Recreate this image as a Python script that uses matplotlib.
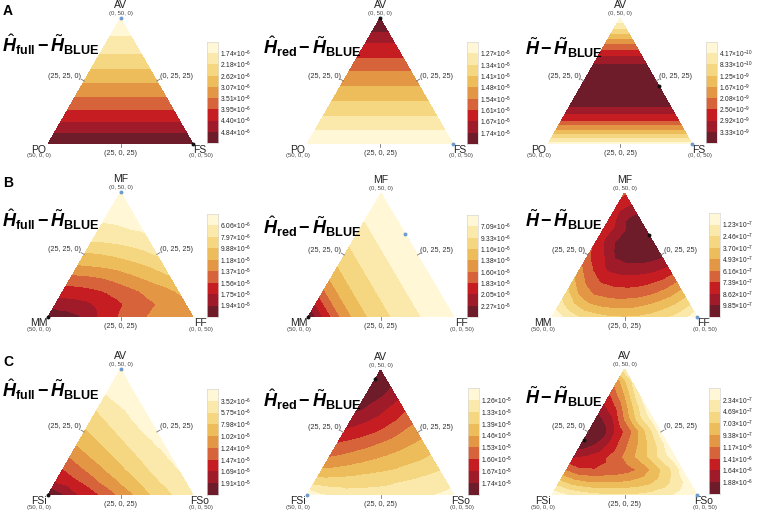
import numpy as np
import matplotlib
matplotlib.use('Agg')
import matplotlib.pyplot as plt
import matplotlib.tri as mtri
from matplotlib.colors import ListedColormap

# band colours, lightest (top of colour bar) to darkest
band_colors = ['#FFF7D6', '#FBE9AB', '#F5D681', '#EDBD5C', '#E39644',
               '#D6633A', '#C51D22', '#A01B2A', '#6E1B2A']

# ternary lattice spacing (units out of 50)
step = 5

# fields, given as position in the colour bands
# (0 = start of lightest band, 9 = end of darkest band).
# rows run from the top vertex down to the base, points in a row run
# from the left vertex side to the right vertex side.
a1_field = [
    [0.1],
    [0.7, 0.7],
    [1.4, 1.4, 1.4],
    [2.1, 2.1, 2.1, 2.1],
    [2.9, 2.9, 2.9, 2.9, 2.9],
    [3.8, 3.8, 3.8, 3.8, 3.8, 3.8],
    [4.75, 4.75, 4.75, 4.75, 4.75, 4.75, 4.75],
    [5.6, 5.6, 5.6, 5.6, 5.6, 5.6, 5.6, 5.6],
    [6.7, 6.7, 6.7, 6.7, 6.7, 6.7, 6.7, 6.7, 6.7],
    [7.8, 7.8, 7.8, 7.8, 7.8, 7.8, 7.8, 7.8, 7.8, 7.8],
    [8.9, 8.9, 8.9, 8.9, 8.9, 8.9, 8.9, 8.9, 8.9, 8.9, 8.9],
]
a2_field = [
    [8.9],
    [8.05, 8.05],
    [6.95, 6.95, 6.95],
    [6.15, 6.15, 6.15, 6.15],
    [5.15, 5.15, 5.15, 5.15, 5.15],
    [4.3, 4.3, 4.3, 4.3, 4.3, 4.3],
    [3.45, 3.45, 3.45, 3.45, 3.45, 3.45, 3.45],
    [2.6, 2.6, 2.6, 2.6, 2.6, 2.6, 2.6, 2.6],
    [1.75, 1.75, 1.75, 1.75, 1.75, 1.75, 1.75, 1.75, 1.75],
    [0.9, 0.9, 0.9, 0.9, 0.9, 0.9, 0.9, 0.9, 0.9, 0.9],
    [0.1, 0.1, 0.1, 0.1, 0.1, 0.1, 0.1, 0.1, 0.1, 0.1, 0.1],
]
a3_field = [
    [0.1],
    [2.2, 2.2],
    [4.7, 4.7, 4.7],
    [6.9, 6.9, 6.9, 6.9],
    [8.5, 8.5, 8.5, 8.5, 8.5],
    [8.7, 8.7, 8.7, 8.7, 8.7, 8.7],
    [8.6, 8.6, 8.6, 8.6, 8.6, 8.6, 8.6],
    [8.1, 8.1, 8.1, 8.1, 8.1, 8.1, 8.1, 8.1],
    [6.3, 6.3, 6.3, 6.3, 6.3, 6.3, 6.3, 6.3, 6.3],
    [3.6, 3.6, 3.6, 3.6, 3.6, 3.6, 3.6, 3.6, 3.6, 3.6],
    [0.2, 0.2, 0.2, 0.2, 0.2, 0.2, 0.2, 0.2, 0.2, 0.2, 0.2],
]
b1_field = [
    [0.1],
    [0.4, 0.3],
    [0.7, 0.6, 0.5],
    [1.3, 1.2, 1.0, 0.85],
    [2.0, 1.9, 1.75, 1.55, 1.3],
    [3.1, 3.0, 2.8, 2.55, 2.25, 1.85],
    [4.1, 4.0, 3.85, 3.6, 3.3, 2.95, 2.5],
    [5.4, 5.3, 5.1, 4.8, 4.4, 4.0, 3.6, 3.15],
    [6.5, 6.4, 6.2, 5.9, 5.5, 5.1, 4.7, 4.35, 3.85],
    [7.5, 7.4, 7.2, 6.8, 6.3, 5.8, 5.3, 4.95, 4.7, 4.2],
    [8.9, 8.45, 8.1, 7.3, 6.5, 5.85, 5.3, 4.9, 4.7, 4.5, 4.4],
]
b2_field = [
    [0.1],
    [0.4, 0.1],
    [0.85, 0.4, 0.1],
    [1.3, 0.85, 0.4, 0.1],
    [1.8, 1.3, 0.85, 0.4, 0.1],
    [2.3, 1.8, 1.3, 0.85, 0.4, 0.1],
    [3.0, 2.3, 1.8, 1.3, 0.85, 0.4, 0.1],
    [3.9, 3.0, 2.3, 1.8, 1.3, 0.85, 0.4, 0.1],
    [5.15, 3.9, 3.0, 2.3, 1.8, 1.3, 0.85, 0.4, 0.1],
    [6.85, 5.15, 3.9, 3.0, 2.3, 1.8, 1.3, 0.85, 0.4, 0.1],
    [8.9, 6.85, 5.15, 3.9, 3.0, 2.3, 1.8, 1.3, 0.85, 0.4, 0.1],
]
b3_field = [
    [5.8],
    [6.3, 7.0],
    [6.2, 7.8, 8.3],
    [6.2, 7.3, 8.4, 8.5],
    [6.1, 7.6, 8.6, 8.8, 8.6],
    [5.8, 6.8, 8.2, 8.7, 8.6, 8.2],
    [4.8, 6.2, 7.3, 7.6, 7.6, 7.4, 6.9],
    [3.8, 5.3, 6.2, 6.5, 6.6, 6.4, 6.0, 5.2],
    [2.6, 4.3, 5.2, 5.5, 5.6, 5.5, 5.1, 4.5, 3.6],
    [1.5, 2.8, 3.8, 4.2, 4.4, 4.3, 4.0, 3.5, 2.9, 2.0],
    [0.1, 1.2, 2.0, 2.5, 2.8, 2.9, 2.8, 2.5, 2.0, 1.3, 0.2],
]
c1_field = [
    [0.1],
    [0.5, 0.2],
    [0.95, 0.6, 0.3],
    [1.73, 1.15, 0.8, 0.45],
    [2.43, 1.89, 1.33, 0.85, 0.55],
    [3.12, 2.58, 2.04, 1.49, 0.97, 0.65],
    [3.88, 3.32, 2.76, 2.19, 1.65, 1.13, 0.75],
    [4.91, 4.2, 3.56, 2.96, 2.36, 1.8, 1.29, 0.85],
    [6.0, 5.29, 4.58, 3.86, 3.19, 2.54, 1.93, 1.44, 0.95],
    [6.93, 6.41, 5.81, 4.96, 4.24, 3.49, 2.76, 2.09, 1.6, 1.15],
    [8.9, 8.04, 6.97, 6.35, 5.52, 4.62, 3.88, 3.0, 2.29, 1.7, 1.4],
]
c2_field = [
    [8.9],
    [8.7, 8.3],
    [8.5, 8.1, 7.4],
    [8.2, 7.7, 7.0, 6.3],
    [7.5, 7.1, 6.6, 6.0, 5.3],
    [6.7, 6.4, 6.0, 5.5, 4.9, 4.4],
    [5.8, 5.5, 5.2, 4.8, 4.4, 4.0, 3.6],
    [4.9, 4.7, 4.4, 4.1, 3.8, 3.5, 3.2, 2.8],
    [3.8, 3.7, 3.5, 3.3, 3.1, 2.9, 2.6, 2.3, 2.0],
    [2.2, 2.4, 2.4, 2.3, 2.2, 2.1, 1.9, 1.7, 1.5, 1.3],
    [0.1, 0.8, 1.2, 1.5, 1.6, 1.6, 1.5, 1.3, 1.1, 0.9, 0.6],
]
c3_field = [
    [1.2],
    [4.3, 1.8],
    [5.9, 3.8, 1.0],
    [7.2, 5.7, 3.1, 0.6],
    [8.5, 7.3, 4.8, 2.3, 0.4],
    [8.9, 8.4, 6.6, 4.9, 2.8, 0.4],
    [8.5, 7.9, 6.7, 5.2, 3.8, 2.3, 0.4],
    [7.0, 6.7, 6.2, 5.3, 4.2, 3.0, 1.6, 0.3],
    [5.0, 5.8, 5.9, 5.7, 5.4, 4.8, 3.6, 2.2, 0.5],
    [2.5, 3.4, 3.8, 3.9, 3.9, 3.7, 3.3, 2.6, 1.6, 0.4],
    [0.1, 0.8, 1.3, 1.6, 1.8, 1.8, 1.7, 1.5, 1.1, 0.6, 0.1],
]

# colour bar labels at the band boundaries, top to bottom
a1_ticks = [1.74e-6, 2.18e-6, 2.62e-6, 3.07e-6, 3.51e-6, 3.95e-6, 4.40e-6, 4.84e-6]
a2_ticks = [1.27e-5, 1.34e-5, 1.41e-5, 1.48e-5, 1.54e-5, 1.61e-5, 1.67e-5, 1.74e-5]
a3_ticks = [4.17e-10, 8.33e-10, 1.25e-9, 1.67e-9, 2.08e-9, 2.50e-9, 2.92e-9, 3.33e-9]
b1_ticks = [6.06e-6, 7.97e-6, 9.88e-6, 1.18e-5, 1.37e-5, 1.56e-5, 1.75e-5, 1.94e-5]
b2_ticks = [7.09e-6, 9.33e-6, 1.16e-5, 1.38e-5, 1.60e-5, 1.83e-5, 2.05e-5, 2.27e-5]
b3_ticks = [1.23e-7, 2.46e-7, 3.70e-7, 4.93e-7, 6.16e-7, 7.39e-7, 8.62e-7, 9.85e-7]
c1_ticks = [3.52e-6, 5.75e-6, 7.98e-6, 1.02e-5, 1.24e-5, 1.47e-5, 1.69e-5, 1.91e-5]
c2_ticks = [1.26e-5, 1.33e-5, 1.39e-5, 1.46e-5, 1.53e-5, 1.60e-5, 1.67e-5, 1.74e-5]
c3_ticks = [2.34e-7, 4.69e-7, 7.03e-7, 9.38e-7, 1.17e-6, 1.41e-6, 1.64e-6, 1.88e-6]

# vertex names (left, top, right) for each row of panels
a_vertices = ['PO', 'AV', 'FS']
b_vertices = ['MM', 'MF', 'FF']
c_vertices = ['FSi', 'AV', 'FSo']

# marked compositions (left, top, right share) and their colour
a1_dots = [(0, 50, 0, 'blue'), (0, 0, 50, 'black')]
a2_dots = [(0, 50, 0, 'black'), (0, 0, 50, 'blue')]
a3_dots = [(0, 23, 27, 'black'), (0, 0, 50, 'blue')]
b1_dots = [(0, 50, 0, 'blue'), (50, 0, 0, 'black')]
b2_dots = [(50, 0, 0, 'black'), (0, 33.5, 16.5, 'blue')]
b3_dots = [(0, 33, 17, 'black'), (0, 0, 50, 'blue')]
c1_dots = [(0, 50, 0, 'blue'), (50, 0, 0, 'black')]
c2_dots = [(3.5, 46.5, 0, 'black'), (50, 0, 0, 'blue')]
c3_dots = [(28, 22, 0, 'black'), (0, 0, 50, 'blue')]

full_title = r'$\hat{H}_{\mathbf{full}}\,\mathbf{-}\,\tilde{H}_{\mathbf{BLUE}}$'
red_title = r'$\hat{H}_{\mathbf{red}}\,\mathbf{-}\,\tilde{H}_{\mathbf{BLUE}}$'
tilde_title = r'$\tilde{H}\,\mathbf{-}\,\tilde{H}_{\mathbf{BLUE}}$'

W, H = 757, 515
R3 = np.sqrt(3) / 2
dot_colors = {'blue': '#6D9BCF', 'black': '#111111'}


def fig_box(x0, y0, x1, y1):
    # pixel box (y down) -> figure fraction rect
    return [x0 / W, 1 - y1 / H, (x1 - x0) / W, (y1 - y0) / H]


def to_xy(left, top, right):
    return right + top / 2.0, top * R3


def draw_triangle(fig, tri_px, field, names, dots):
    xl, xr, yb, yt = tri_px
    ax = fig.add_axes(fig_box(xl, yt, xr, yb))
    ax.set_xlim(0, 50)
    ax.set_ylim(0, 50 * R3)
    ax.axis('off')

    # build lattice points
    xs, ys, zs = [], [], []
    n = len(field) - 1
    for r, row in enumerate(field):
        av = step * (n - r)
        for k, val in enumerate(row):
            x, y = to_xy(0, av, step * k)
            xs.append(x)
            ys.append(y)
            zs.append(val)
    tri = mtri.Triangulation(xs, ys)
    ax.tricontourf(tri, zs, levels=np.arange(10), colors=band_colors)

    # edge ticks and labels
    tick_col = '#777777'
    ax.plot([12.5, 12.5 - 1.1], [25 * R3, 25 * R3 + 0.65], color=tick_col, lw=0.6, clip_on=False)
    ax.plot([37.5, 37.5 + 1.1], [25 * R3, 25 * R3 + 0.65], color=tick_col, lw=0.6, clip_on=False)
    ax.plot([25, 25], [0, -1.2], color=tick_col, lw=0.6, clip_on=False)
    ax.annotate('(25, 25, 0)', xy=(12.5, 25 * R3), xytext=(-3, 5), textcoords='offset pixels',
                ha='right', va='center', fontsize=5.2, color='#333333')
    ax.annotate('(0, 25, 25)', xy=(37.5, 25 * R3), xytext=(3, 5), textcoords='offset pixels',
                ha='left', va='center', fontsize=5.2, color='#333333')
    ax.annotate('(25, 0, 25)', xy=(25, 0), xytext=(0, -6), textcoords='offset pixels',
                ha='center', va='top', fontsize=5.2, color='#333333')

    # vertex names and coordinates
    ax.annotate(names[1], xy=(25, 50 * R3), xytext=(0, 8), textcoords='offset pixels',
                ha='center', va='bottom', fontsize=7.5, color='#222222')
    ax.annotate('(0, 50, 0)', xy=(25, 50 * R3), xytext=(0, 2), textcoords='offset pixels',
                ha='center', va='bottom', fontsize=4.3, color='#444444')
    ax.annotate(names[0], xy=(0, 0), xytext=(-9, -1), textcoords='offset pixels',
                ha='center', va='top', fontsize=7.5, color='#222222')
    ax.annotate('(50, 0, 0)', xy=(0, 0), xytext=(-9, -9.5), textcoords='offset pixels',
                ha='center', va='top', fontsize=4.3, color='#444444')
    ax.annotate(names[2], xy=(50, 0), xytext=(7, -1), textcoords='offset pixels',
                ha='center', va='top', fontsize=7.5, color='#222222')
    ax.annotate('(0, 0, 50)', xy=(50, 0), xytext=(8, -9.5), textcoords='offset pixels',
                ha='center', va='top', fontsize=4.3, color='#444444')

    for left, top, right, col in dots:
        x, y = to_xy(left, top, right)
        ax.plot(x, y, 'o', ms=2.8, color=dot_colors[col], mec='none', clip_on=False, zorder=5)
    return ax


def fmt_tick(v):
    e = int(np.floor(np.log10(v) + 1e-9))
    m = v / 10.0 ** e
    return r'%.2f$\times$10$^{%d}$' % (m, e)


def draw_colorbar(fig, bar_px, ticks):
    x0, x1, y0, y1 = bar_px
    cax = fig.add_axes(fig_box(x0, y0, x1, y1))
    cmap = ListedColormap(band_colors)
    cax.imshow(np.arange(9).reshape(9, 1), cmap=cmap, aspect='auto',
               extent=(0, 1, 9, 0), interpolation='nearest', vmin=0, vmax=8)
    cax.set_xticks([])
    cax.set_yticks(np.arange(1, 9))
    cax.set_yticklabels([fmt_tick(t) for t in ticks])
    cax.yaxis.tick_right()
    cax.tick_params(axis='y', length=0, pad=1.5, labelsize=4.8, colors='#222222')
    for s in cax.spines.values():
        s.set_color('#d8d8d8')
        s.set_linewidth(0.5)


def main():
    plt.rcParams['font.family'] = 'Liberation Sans'
    plt.rcParams['mathtext.fontset'] = 'custom'
    plt.rcParams['mathtext.rm'] = 'Liberation Sans'
    plt.rcParams['mathtext.it'] = 'Liberation Sans:italic:bold'
    plt.rcParams['mathtext.bf'] = 'Liberation Sans:bold'

    fig = plt.figure(figsize=(W / 100, H / 100), dpi=100)

    panels = [
        # triangle px (left x, right x, base y, apex y), colour bar px, title pos
        (a1_field, a1_ticks, a_vertices, a1_dots, full_title, (48, 193, 144, 18), (207, 218, 42, 143), (2, 45)),
        (a2_field, a2_ticks, a_vertices, a2_dots, red_title, (307, 453, 144, 18), (467, 478, 42, 144), (263, 47)),
        (a3_field, a3_ticks, a_vertices, a3_dots, tilde_title, (548, 692, 144, 18), (706, 717, 42, 143), (525, 48)),
        (b1_field, b1_ticks, b_vertices, b1_dots, full_title, (48, 193, 317, 192), (207, 218, 214, 317), (2, 220)),
        (b2_field, b2_ticks, b_vertices, b2_dots, red_title, (308, 454, 317, 193), (467, 478, 215, 317), (263, 227)),
        (b3_field, b3_ticks, b_vertices, b3_dots, tilde_title, (552, 697, 317, 193), (709, 720, 213, 317), (525, 220)),
        (c1_field, c1_ticks, c_vertices, c1_dots, full_title, (48, 193, 495, 369), (207, 218, 389, 495), (2, 390)),
        (c2_field, c2_ticks, c_vertices, c2_dots, red_title, (307, 454, 495, 370), (468, 479, 388, 495), (263, 400)),
        (c3_field, c3_ticks, c_vertices, c3_dots, tilde_title, (552, 697, 495, 369), (709, 720, 388, 494), (525, 397)),
    ]

    for field, ticks, names, dots, title, tri_px, bar_px, tpos in panels:
        draw_triangle(fig, tri_px, field, names, dots)
        draw_colorbar(fig, bar_px, ticks)
        fig.text(tpos[0] / W, 1 - tpos[1] / H, title, fontsize=13, ha='left', va='center')

    # panel letters
    for letter, y in [('A', 11), ('B', 183), ('C', 362)]:
        fig.text(8 / W, 1 - y / H, letter, fontsize=10, fontweight='bold', ha='center', va='center')

    fig.savefig('out.png', dpi=100)


if __name__ == '__main__':
    main()
